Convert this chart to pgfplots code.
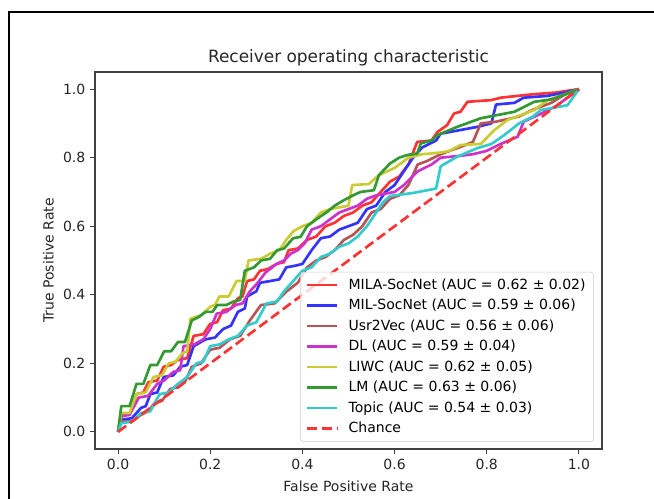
\documentclass[border=0pt]{standalone}
\usepackage{pgfplots}
\pgfplotsset{compat=1.18}
\usepackage{fontspec}
\setmainfont{DejaVu Sans}

\definecolor{cRed}{HTML}{FF3333}
\definecolor{cBlue}{HTML}{3333FF}
\definecolor{cBrown}{HTML}{B75555}
\definecolor{cMag}{HTML}{CB33CB}
\definecolor{cYel}{HTML}{CBCB33}
\definecolor{cGreen}{HTML}{339933}
\definecolor{cCyan}{HTML}{33CBCB}

\begin{document}
\begin{tikzpicture}
% page = 654 x 499 px, 1 px = 0.75pt
\path[use as bounding box] (0,0) rectangle (490.5pt,374.25pt);
\draw[line width=1.5pt] (6.75pt,0pt) -- (6.75pt,365.25pt) -- (490.5pt,365.25pt);
\begin{axis}[
    at={(71.25pt,37.5pt)}, anchor=south west,
    scale only axis,
    width=380.25pt, height=282.75pt,
    xmin=-0.05, xmax=1.05, ymin=-0.05, ymax=1.05,
    xtick={0,0.2,...,1.0}, ytick={0,0.2,...,1.0},
    /pgf/number format/.cd, fixed, fixed zerofill, precision=1, assume math mode=true,
    /pgfplots/.cd,
    tick align=outside, tick pos=left,
    major tick length=3.7pt,
    axis line style={black!75, line width=0.8pt},
    every tick/.style={black!75, line width=0.8pt},
    ticklabel style={font=\fontsize{10.5}{12}\selectfont, text=black!85},
    label style={font=\fontsize{10.5}{12}\selectfont, text=black!85},
    xlabel style={yshift=-2pt},
    title style={font=\fontsize{12.7}{15}\selectfont, text=black!85, yshift=-5pt},
    title={Receiver operating characteristic},
    xlabel={False Positive Rate},
    ylabel={True Positive Rate},
    legend cell align=left,
    legend style={at={(0.984,0.019)}, anchor=south east,
        draw=black!20, rounded corners=2pt, fill=white, fill opacity=0.8, text opacity=1,
        font=\fontsize{10.5}{12}\selectfont, row sep=1.9pt, inner xsep=4pt, inner ysep=3pt},
    legend image code/.code={\draw[#1] (0pt,0pt) -- (22.5pt,0pt); \path (28pt,0pt);},
    every axis plot/.append style={line width=2pt, line join=round},
]
\addplot[cRed] coordinates {
(0,0) (0.007,0.05) (0.025,0.05) (0.04,0.11) (0.055,0.115) (0.066,0.145) (0.085,0.15) (0.099,0.19) (0.115,0.195) (0.13,0.21) (0.15,0.215) (0.164,0.28) (0.185,0.285) (0.2,0.315) (0.215,0.32) (0.228,0.355) (0.245,0.36) (0.26,0.39) (0.27,0.395) (0.28,0.44) (0.295,0.445) (0.308,0.47) (0.325,0.475) (0.344,0.49) (0.36,0.495) (0.37,0.53) (0.39,0.535) (0.41,0.56) (0.43,0.57) (0.45,0.6) (0.47,0.61) (0.49,0.63) (0.51,0.64) (0.53,0.66) (0.55,0.67) (0.57,0.7) (0.59,0.73) (0.61,0.745) (0.63,0.78) (0.649,0.846) (0.68,0.85) (0.693,0.875) (0.714,0.895) (0.729,0.929) (0.743,0.934) (0.758,0.963) (0.81,0.968) (0.83,0.975) (0.9,0.985) (0.95,0.99) (1,1)
};
\addlegendentry{MILA-SocNet (AUC = 0.62 ± 0.02)}
\addplot[cBlue] coordinates {
(0,0) (0.007,0.035) (0.03,0.04) (0.05,0.07) (0.06,0.075) (0.07,0.11) (0.085,0.115) (0.099,0.16) (0.12,0.165) (0.135,0.19) (0.15,0.195) (0.164,0.25) (0.19,0.27) (0.21,0.275) (0.228,0.3) (0.245,0.31) (0.26,0.35) (0.275,0.36) (0.28,0.395) (0.3,0.41) (0.308,0.435) (0.33,0.44) (0.35,0.445) (0.365,0.48) (0.385,0.485) (0.4,0.49) (0.42,0.53) (0.44,0.565) (0.46,0.57) (0.48,0.59) (0.5,0.6) (0.52,0.61) (0.54,0.65) (0.56,0.66) (0.58,0.7) (0.6,0.72) (0.62,0.76) (0.64,0.8) (0.66,0.83) (0.69,0.85) (0.7,0.87) (0.74,0.88) (0.78,0.89) (0.81,0.9) (0.82,0.955) (0.86,0.96) (0.88,0.975) (0.93,0.98) (0.97,0.99) (1,1)
};
\addlegendentry{MIL-SocNet (AUC = 0.59 ± 0.06)}
\addplot[cBrown] coordinates {
(0,0) (0.007,0.03) (0.03,0.03) (0.05,0.05) (0.065,0.06) (0.08,0.085) (0.095,0.09) (0.113,0.125) (0.13,0.13) (0.145,0.145) (0.16,0.19) (0.18,0.2) (0.2,0.24) (0.22,0.245) (0.243,0.27) (0.265,0.28) (0.286,0.325) (0.31,0.37) (0.34,0.375) (0.366,0.41) (0.39,0.435) (0.41,0.48) (0.43,0.5) (0.45,0.51) (0.47,0.53) (0.49,0.56) (0.51,0.575) (0.53,0.6) (0.55,0.64) (0.57,0.65) (0.59,0.68) (0.61,0.69) (0.63,0.72) (0.65,0.78) (0.67,0.79) (0.7,0.81) (0.72,0.82) (0.75,0.835) (0.77,0.846) (0.787,0.9) (0.82,0.905) (0.87,0.92) (0.9,0.94) (0.94,0.96) (0.97,0.985) (1,1)
};
\addlegendentry{Usr2Vec (AUC = 0.56 ± 0.06)}
\addplot[cMag] coordinates {
(0,0) (0.007,0.045) (0.025,0.05) (0.045,0.1) (0.065,0.105) (0.085,0.14) (0.1,0.15) (0.12,0.175) (0.135,0.18) (0.142,0.25) (0.165,0.255) (0.185,0.27) (0.2,0.3) (0.214,0.345) (0.235,0.35) (0.255,0.37) (0.27,0.375) (0.286,0.41) (0.3,0.43) (0.32,0.465) (0.344,0.49) (0.36,0.5) (0.375,0.52) (0.39,0.53) (0.405,0.55) (0.42,0.59) (0.44,0.6) (0.46,0.62) (0.48,0.64) (0.5,0.65) (0.52,0.66) (0.54,0.68) (0.56,0.69) (0.6,0.7) (0.62,0.72) (0.65,0.76) (0.68,0.78) (0.7,0.8) (0.74,0.805) (0.77,0.81) (0.8,0.82) (0.83,0.84) (0.867,0.861) (0.88,0.905) (0.92,0.93) (0.95,0.95) (0.98,0.98) (1,1)
};
\addlegendentry{DL (AUC = 0.59 ± 0.04)}
\addplot[cYel] coordinates {
(0,0) (0.007,0.055) (0.025,0.055) (0.04,0.11) (0.06,0.115) (0.077,0.16) (0.095,0.165) (0.11,0.2) (0.125,0.205) (0.14,0.23) (0.15,0.235) (0.157,0.33) (0.18,0.34) (0.2,0.365) (0.21,0.37) (0.22,0.395) (0.24,0.395) (0.257,0.44) (0.275,0.44) (0.283,0.5) (0.31,0.505) (0.33,0.52) (0.35,0.53) (0.365,0.56) (0.38,0.585) (0.4,0.6) (0.42,0.61) (0.44,0.64) (0.46,0.65) (0.48,0.655) (0.5,0.66) (0.508,0.72) (0.544,0.723) (0.566,0.749) (0.6,0.77) (0.63,0.8) (0.66,0.81) (0.7,0.815) (0.72,0.82) (0.743,0.837) (0.787,0.84) (0.816,0.88) (0.845,0.91) (0.903,0.939) (0.932,0.968) (0.97,0.985) (1,1)
};
\addlegendentry{LIWC (AUC = 0.62 ± 0.05)}
\addplot[cGreen] coordinates {
(0,0) (0.007,0.075) (0.025,0.075) (0.04,0.14) (0.055,0.14) (0.07,0.195) (0.085,0.195) (0.10,0.235) (0.115,0.235) (0.13,0.262) (0.145,0.262) (0.16,0.325) (0.175,0.335) (0.19,0.35) (0.205,0.35) (0.215,0.37) (0.235,0.37) (0.25,0.38) (0.265,0.385) (0.275,0.47) (0.295,0.48) (0.31,0.5) (0.33,0.505) (0.345,0.53) (0.36,0.535) (0.38,0.565) (0.396,0.569) (0.41,0.6) (0.43,0.62) (0.454,0.642) (0.47,0.66) (0.49,0.676) (0.51,0.69) (0.526,0.70) (0.555,0.705) (0.566,0.749) (0.59,0.783) (0.61,0.8) (0.628,0.808) (0.649,0.812) (0.657,0.842) (0.68,0.85) (0.693,0.866) (0.736,0.89) (0.787,0.915) (0.86,0.934) (0.903,0.963) (0.94,0.97) (0.975,0.987) (1,1)
};
\addlegendentry{LM (AUC = 0.63 ± 0.06)}
\addplot[cCyan] coordinates {
(0,0) (0.007,0.025) (0.03,0.03) (0.05,0.055) (0.07,0.06) (0.09,0.11) (0.11,0.115) (0.13,0.14) (0.15,0.16) (0.17,0.2) (0.185,0.205) (0.2,0.25) (0.22,0.255) (0.24,0.27) (0.26,0.28) (0.28,0.31) (0.3,0.32) (0.322,0.375) (0.345,0.38) (0.36,0.41) (0.38,0.44) (0.4,0.47) (0.42,0.48) (0.44,0.51) (0.46,0.52) (0.48,0.54) (0.5,0.55) (0.52,0.57) (0.54,0.6) (0.56,0.64) (0.575,0.67) (0.59,0.688) (0.64,0.697) (0.69,0.71) (0.70,0.775) (0.736,0.803) (0.78,0.828) (0.81,0.84) (0.838,0.866) (0.87,0.9) (0.9,0.92) (0.917,0.939) (0.975,0.953) (1,1)
};
\addlegendentry{Topic (AUC = 0.54 ± 0.03)}
\addplot[cRed, dash pattern=on 7.5pt off 3.5pt] coordinates {(0,0) (1,1)};
\addlegendentry{Chance}
\end{axis}
\end{tikzpicture}
\end{document}
